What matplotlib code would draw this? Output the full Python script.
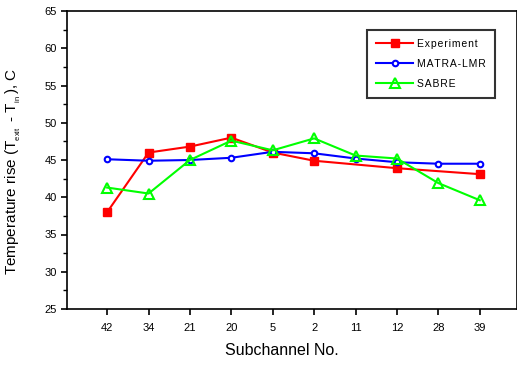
import numpy as np
import matplotlib
matplotlib.use("Agg")
import matplotlib.pyplot as plt
from matplotlib.ticker import MultipleLocator

plt.rcParams['font.family'] = ['Liberation Sans', 'DejaVu Sans']
plt.rcParams['mathtext.fontset'] = 'custom'
plt.rcParams['mathtext.rm'] = 'Liberation Sans'
plt.rcParams['mathtext.it'] = 'Liberation Sans'

# donnees
subchannels = ['42', '34', '21', '20', '5', '2', '11', '12', '28', '39']
experiment = [38.0, 46.0, 46.8, 48.0, 46.0, 44.9, np.nan, 43.9, np.nan, 43.1]
matra_lmr = [45.1, 44.9, 45.0, 45.3, 46.1, 45.9, 45.2, 44.7, 44.5, 44.5]
sabre = [41.3, 40.5, 45.0, 47.6, 46.3, 47.9, 45.6, 45.2, 41.9, 39.6]


def spaced(s):
    # espacement des lettres comme dans la legende d'origine
    return '\u200a'.join(s)


x = np.arange(1, len(subchannels) + 1)

fig = plt.figure(figsize=(5.17, 3.65), dpi=100)
ax = fig.add_axes([67 / 517, 56 / 365, 450 / 517, 298 / 365])

exp = np.array(experiment)
ok = ~np.isnan(exp)
ax.plot(x[ok], exp[ok], color='#ff0000', lw=1.5, marker='s', ms=6,
        mfc='#ff0000', mec='#ff0000', label=spaced('Experiment'))
ax.plot(x, matra_lmr, color='#0000ff', lw=1.5, marker='o', ms=4,
        mfc='white', mec='#0000ff', mew=1.5, label=spaced('MATRA-LMR'))
ax.plot(x, sabre, color='#00ff00', lw=1.5, marker='^', ms=7,
        mfc='none', mec='#00ff00', mew=1.5, label=spaced('SABRE'))

ax.set_xlim(0.03, 10.9)
ax.set_ylim(25, 65)
ax.set_xticks(x)
ax.set_xticklabels(subchannels)
ax.yaxis.set_major_locator(MultipleLocator(5))
ax.yaxis.set_minor_locator(MultipleLocator(2.5))

for s in ax.spines.values():
    s.set_linewidth(1.2)
ax.tick_params(axis='both', which='major', direction='out', length=4,
               width=1.2, labelsize=8, colors='black')
ax.tick_params(axis='y', which='minor', direction='out', length=3, width=1.0)
ax.tick_params(axis='x', pad=6)

ax.set_xlabel('Subchannel No.', fontsize=11.5)
ax.set_ylabel(r'Temperature rise (T$_{\mathregular{_{exit}}}\,$ - T$_{\mathregular{_{in}}}\,$), C',
              fontsize=11)
ax.xaxis.set_label_coords(0.478, -0.115)
ax.yaxis.set_label_coords(-0.098, 0.46)

leg = ax.legend(loc='upper right', bbox_to_anchor=(0.962, 0.955),
                prop={'size': 7.5},
                frameon=True, fancybox=False, edgecolor='black',
                borderpad=0.9, labelspacing=0.95, handlelength=3.6,
                handletextpad=0.3)
leg.get_frame().set_linewidth(1.5)

fig.savefig('out.png', dpi=100)
